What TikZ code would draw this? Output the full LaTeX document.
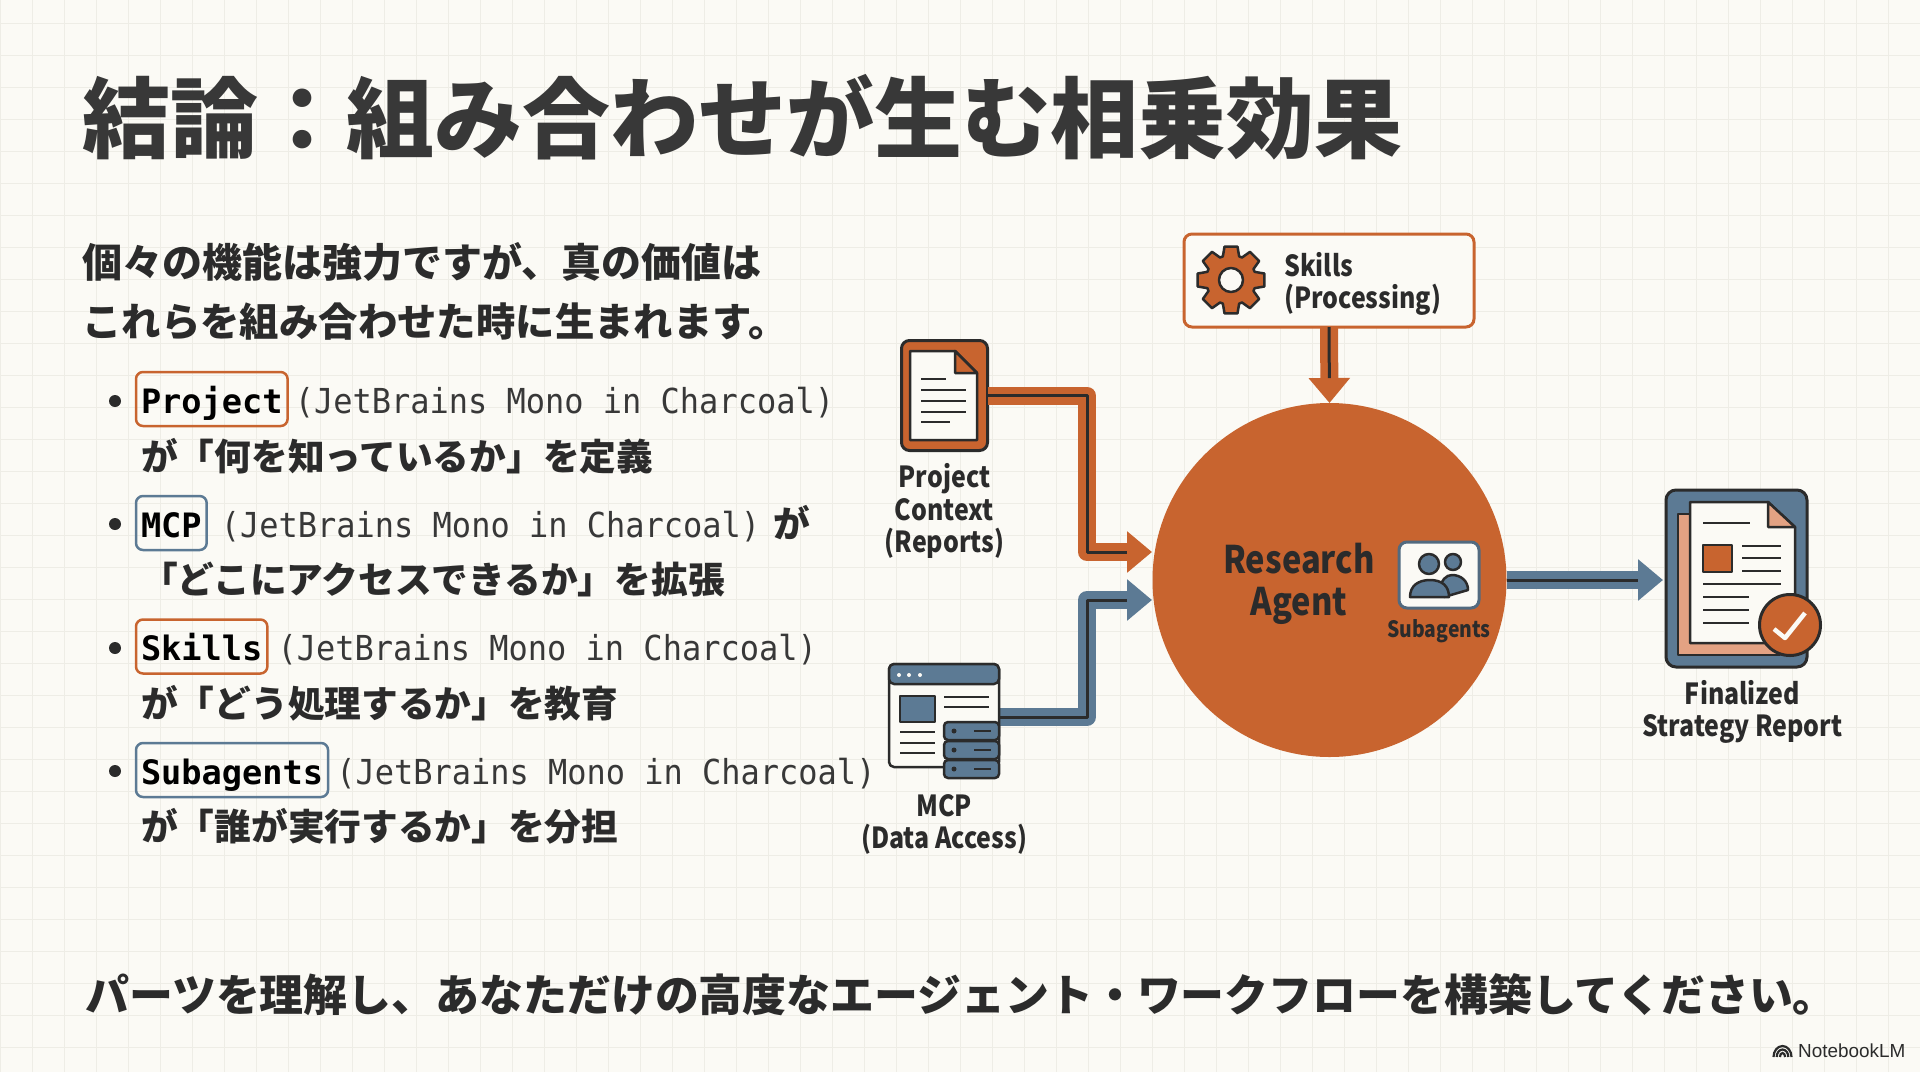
\documentclass[tikz,border=0pt]{standalone}
\usepackage{fontspec}
\usepackage{xcolor}
\usepackage{tikz}
\usetikzlibrary{positioning,arrows.meta}
\newfontfamily\jpfont{Noto Sans CJK JP}
\newfontfamily\labelfont[FakeStretch=0.86]{Noto Sans CJK JP}
\newfontfamily\codefont{DejaVu Sans Mono}
\newfontfamily\slimcodefont[FakeStretch=0.93]{DejaVu Sans Mono}
\newfontfamily\logofont{Liberation Sans}
\definecolor{paper}{HTML}{FBFAF5}
\definecolor{gridcol}{HTML}{EEEDE6}
\definecolor{rust}{HTML}{C8642F}
\definecolor{slate}{HTML}{5C7A94}
\definecolor{peach}{HTML}{E3A283}
\definecolor{ink}{HTML}{2B2B2B}
\definecolor{charcoal}{HTML}{383838}
\tikzset{
headline/.style={
anchor=base west,
inner sep=0pt,
text=charcoal,
font=\jpfont\bfseries\fontsize{88}{100}\selectfont
},
bodyline/.style={
anchor=base west,
inner sep=0pt,
text=ink,
font=\jpfont\bfseries\fontsize{40}{48}\selectfont
},
bulletline/.style={
anchor=base west,
inner sep=0pt,
text=ink,
font=\jpfont\bfseries\fontsize{36.7}{44}\selectfont
},
closingline/.style={
anchor=base west,
inner sep=0pt,
text=ink,
font=\jpfont\bfseries\fontsize{43.9}{50}\selectfont
},
codeline/.style={
inner sep=0pt,
text=charcoal,
font=\slimcodefont\fontsize{34.4}{38}\selectfont
},
tagbox/.style={
draw=#1,
line width=2.5pt,
rounded corners=7pt,
anchor=west,
inner xsep=5pt,
inner ysep=7pt,
outer sep=0pt,
text height=34pt,
text depth=6pt,
text=black,
font=\codefont\bfseries\fontsize{33.6}{38}\selectfont
},
bulletdot/.style={
circle,
fill=ink,
inner sep=0pt,
minimum size=12pt
},
caption/.style={
align=center,
inner sep=0pt,
text=ink,
font=\labelfont\bfseries\fontsize{29}{32.5}\selectfont
},
iconbox/.style={
draw=ink,
line width=3pt,
fill=#1,
rounded corners=8pt,
inner sep=0pt,
outer sep=0pt
},
sheet/.style={
draw=ink,
line width=2.5pt,
fill=paper,
line join=round
},
inkrule/.style={
draw=ink,
line width=2.5pt
},
pipe/.style={
draw=#1,
line width=18pt,
line join=round,
-{Triangle[length=25pt,width=40pt]},
postaction={draw=ink,line width=3pt,-,shorten >=25pt}
},
gridrule/.style={
draw=gridcol,
line width=1pt
}
}
\begin{document}
\begin{tikzpicture}[x=1pt,y=-1pt]
\useasboundingbox (0,0) rectangle (1920,1072);
\fill[paper] (0,0) rectangle (1920,1072);
\foreach \x in {0,32,...,1920}
\draw[gridrule] (\x,0)--(\x,1072);
\foreach \y in {23,55,...,1071}
\draw[gridrule] (0,\y)--(1920,\y);

% left column
\node[headline] (title) at (82,151) {結論：組み合わせが生む相乗効果};
\node[bodyline] (introa) at (82,277) {個々の機能は強力ですが、真の価値は};
\node[bodyline,font=\jpfont\bfseries\fontsize{39.4}{48}\selectfont] (introb) at (82,336) {これらを組み合わせた時に生まれます。};

\foreach \n/\y in {1/401,2/524,3/648,4/771}
\node[bulletdot] (dot\n) at (115,\y) {};

\node[tagbox=rust] (tagproject) at (136,399) {Project};
\node[codeline,base right=7pt of tagproject] (restproject) {(JetBrains Mono in Charcoal)};
\node[bulletline] (lineproject) at (141,470) {が「何を知っているか」を定義};

\node[tagbox=slate] (tagmcp) at (136,523) {MCP};
\node[codeline,base right=14pt of tagmcp] (restmcp) {(JetBrains Mono in Charcoal)};
\node[bulletline,base right=13pt of restmcp] (gamcp) {が};
\node[bulletline] (linemcp) at (141,593) {「どこにアクセスできるか」を拡張};

\node[tagbox=rust] (tagskills) at (136,646.5) {Skills};
\node[codeline,base right=10pt of tagskills] (restskills) {(JetBrains Mono in Charcoal)};
\node[bulletline] (lineskills) at (141,717) {が「どう処理するか」を教育};

\node[tagbox=slate] (tagsub) at (136,770) {Subagents};
\node[codeline,base right=8pt of tagsub] (restsub) {(JetBrains Mono in Charcoal)};
\node[bulletline] (linesub) at (141,840) {が「誰が実行するか」を分担};

\node[closingline] (closing) at (85,1011) {パーツを理解し、あなただけの高度なエージェント・ワークフローを構築してください。};

% main nodes
\node[circle,fill=rust,minimum size=354pt,inner sep=0pt,outer sep=0pt] (agent) at (1329.5,580) {};
\node[caption,font=\labelfont\bfseries\fontsize{38}{42}\selectfont] (agenttext) at (1299,584) {Research\\Agent};
\node[iconbox=rust,minimum width=86pt,minimum height=110pt] (projectdoc) at (944.5,395.5) {};
\node[inner sep=0pt,minimum width=110pt,minimum height=106pt] (mcpicon) at (944,717) {};
\node[iconbox=paper,draw=rust,minimum width=290pt,minimum height=93pt] (skills) at (1329,280.5) {};
\node[caption,align=left,anchor=west] (skillstext) at (1284,284) {Skills\\(Processing)};
\node[iconbox=slate,minimum width=141pt,minimum height=177pt,rounded corners=10pt] (report) at (1736.5,578.5) {};
\node[iconbox=paper,draw=slate!80!ink,minimum width=80pt,minimum height=66pt] (subicon) at (1439,575) {};
\node[caption,font=\labelfont\bfseries\fontsize{22.5}{26}\selectfont,below=11pt of subicon] (subtext) {Subagents};
\node[caption,below=13pt of projectdoc] (projecttext) {Project\\Context\\(Reports)};
\node[caption,below=24pt of mcpicon] (mcptext) {MCP\\(Data Access)};
\node[caption,below=13pt of report,xshift=6pt] (reporttext) {Finalized\\Strategy Report};
\coordinate (pipex) at (1087,580);
\coordinate (projectin) at (1152,552);
\coordinate (mcpin) at (1152,600);
\coordinate (reportin) at (1663,580);

% connectors
\draw[pipe=rust] (projectdoc.east)-|(pipex|-projectin)--(projectin);
\draw[pipe=slate] (mcpicon.east)-|(pipex|-mcpin)--(mcpin);
\draw[pipe=rust] (skills.south)--(agent.north);
\draw[pipe=slate] (agent.east)--(reportin);

% project icon
\draw[sheet] (910,351)--(955,351)--(977,373)--(977,440)--(910,440)--cycle;
\draw[sheet,fill=rust] (955,351)--(955,373)--(977,373)--cycle;
\foreach \y/\xe in {379/946,390/966,401/966,412/966,422/950}
\draw[inkrule] (921,\y)--(\xe,\y);

% gear
\draw[sheet,fill=rust,line width=2.5pt,shift={(1231,280)}] (-19:25)
\foreach \a in {0,45,...,315}{--(\a-19:25)--(\a-11:34)--(\a+11:34)--(\a+19:25)}--cycle;
\draw[sheet] (1231,280) circle (12);

% mcp icon
\draw[sheet,rounded corners=5pt] (889,767)--(889,664)--(999,664)--(999,767)--cycle;
\draw[sheet,fill=slate,rounded corners=5pt] (889,684)--(889,664)--(999,664)--(999,684)--cycle;
\foreach \x in {899,909,920}
\fill[paper] (\x,675) circle (2);
\draw[sheet,fill=slate] (900,696) rectangle (935,722);
\foreach \y in {697,707}
\draw[inkrule] (944,\y)--(989,\y);
\foreach \y in {732,743,753}
\draw[inkrule] (900,\y)--(935,\y);
\foreach \y in {722,741,760}{
\draw[sheet,fill=slate,rounded corners=4pt] (944,\y) rectangle (999,\y+18);
\fill[ink] (954,\y+9) circle (2.5);
\draw[inkrule] (974,\y+9)--(991,\y+9);
}

% subagents icon
\draw[sheet,fill=slate] (1444,597)--(1468,590) .. controls (1468,581) and (1461,575) .. (1452,575) .. controls (1446,575) and (1441,580) .. (1440,590)--cycle;
\draw[sheet,fill=slate] (1453,562) circle (8);
\draw[sheet,fill=slate] (1410,597) .. controls (1410,586) and (1418,580) .. (1430,580) .. controls (1442,580) and (1449,586) .. (1449,597)--cycle;
\draw[sheet,fill=slate] (1429,564) circle (10);

% report icon
\draw[sheet,fill=peach] (1678,514)--(1690,514)--(1690,643)--(1780,643)--(1780,655)--(1678,655)--cycle;
\draw[sheet] (1690,502)--(1768,502)--(1795,527)--(1795,643)--(1690,643)--cycle;
\draw[sheet,fill=peach] (1768,502)--(1768,527)--(1795,527)--cycle;
\draw[inkrule] (1703,523)--(1750,523);
\draw[sheet,fill=rust] (1703,545) rectangle (1732,572);
\foreach \y in {546,558,571}
\draw[inkrule] (1742,\y)--(1781,\y);
\draw[inkrule] (1703,584)--(1781,584);
\foreach \y in {597,610,623}
\draw[inkrule] (1703,\y)--(1749,\y);
\node[circle,fill=rust,draw=ink,line width=3pt,minimum size=61pt,inner sep=0pt] (checkmark) at (1790,625) {};
\draw[paper,line width=4.5pt,line join=round] (1774,629)--(1785,638)--(1805,613);

% logo
\foreach \r/\s in {9/11,5.8/7.5,2.6/4}
\draw[ink,line width=2.2pt] (1782.5-\r,1057) arc[start angle=180,end angle=360,x radius=\r,y radius=\s];
\node[inner sep=0pt,anchor=base west,text=ink,font=\logofont\fontsize{18.9}{22}\selectfont] (logotext) at (1798,1057.5) {NotebookLM};
\end{tikzpicture}
\end{document}
